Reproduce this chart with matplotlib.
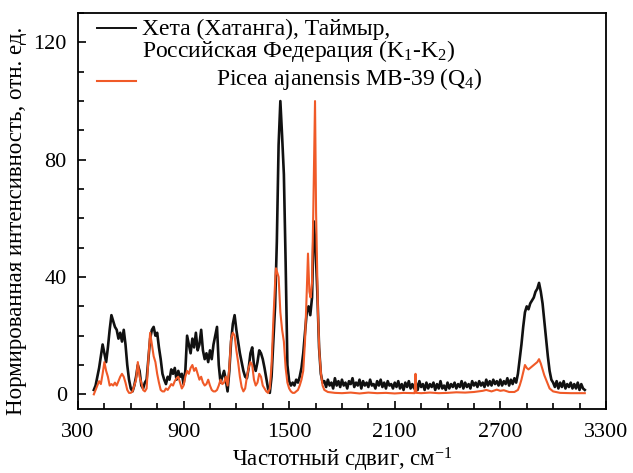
import matplotlib
matplotlib.use("Agg")
import matplotlib.pyplot as plt
from matplotlib.ticker import MultipleLocator, FixedLocator

plt.rcParams['font.family'] = ['Liberation Serif', 'DejaVu Serif']
plt.rcParams['mathtext.fontset'] = 'custom'
plt.rcParams['mathtext.rm'] = 'Liberation Serif'
plt.rcParams['mathtext.it'] = 'Liberation Serif:italic'

# Хета (Хатанга) spectrum: fingerprint part sampled every 10 cm-1
khet_shift_a = list(range(390, 1700, 10))
khet_int_a = [1.5, 3, 6, 9, 13, 17, 14, 11, 16, 22, 27, 25, 23, 22, 19,
              21, 18, 22, 17, 10, 5, 2, 1, 3, 6, 10, 8, 3, 2, 4,
              5, 12, 19, 22, 23, 20, 21, 16, 12, 7, 5, 3.5, 6, 5, 8.5,
              7, 9, 5, 8, 6, 7, 3.5, 8, 20, 17, 14, 19, 16, 21, 15,
              17, 22, 15, 12, 14, 11, 15, 12, 17, 20, 23, 10, 4,
              6, 8, 5, 1, 8, 18, 24, 27, 22, 18, 14, 11, 8,
              6, 5.5, 9, 14, 16, 10, 8, 11, 15, 14, 12, 9, 5.5,
              2, 0.5, 6, 18, 30, 52, 85, 100, 88, 75, 45, 10, 4.5,
              3, 4, 3, 5, 4, 6, 9, 14, 21, 28, 30, 27, 33,
              59, 50, 35, 16, 7, 4]
# noisy baseline 1700-2790
khet_shift_b = list(range(1700, 2800, 10))
khet_int_b = [4.5, 2.5, 5, 3, 4, 2, 5.5, 3, 4.5, 2.5,
              5, 3, 4, 2, 4.5, 3.5, 5.5, 2.5, 4, 3,
              5, 2, 4.5, 3, 4, 2.5, 5, 3, 3.5, 2,
              4.5, 3, 5, 2.5, 4, 2, 4.5, 3, 3.5, 2,
              4, 2.5, 4.5, 2, 3.5, 1.5, 4, 2.5, 4.5, 2,
              3.5, 2, 4, 1.5, 4.5, 2.5, 3.5, 1.5, 4, 2,
              3.5, 2.5, 4, 1.5, 3.5, 2, 4.5, 2, 3, 1.5,
              4, 2, 3.5, 2.5, 4, 2, 3.5, 2.5, 4.5, 2,
              4, 2.5, 3.5, 2, 4.5, 3, 4, 2.5, 4.5, 3,
              4, 2.5, 5, 3, 4.5, 3, 5, 3.5, 4.5, 3,
              5, 3, 4.5, 3.5, 5.5, 3, 5, 3.5, 5.5, 4]
# CH band and tail 2800-3180
khet_shift_c = list(range(2800, 3190, 10))
khet_int_c = [7, 12, 17, 23, 28, 30, 29, 31, 32, 33, 35, 36, 38, 35, 31, 25, 19,
              13, 8, 5, 4, 2.5, 4.5, 2, 4, 2.5, 4.5, 2, 3.5, 2.5, 4, 2,
              3.5, 2, 4, 1.5, 3.5, 2, 1.5]

khet_shift = khet_shift_a + khet_shift_b + khet_shift_c
khet_int = khet_int_a + khet_int_b + khet_int_c

# Picea ajanensis MB-39 spectrum
picea_shift = [390, 400, 410, 420, 430, 440, 450, 460, 470, 480, 490, 500, 510, 520, 530,
               540, 550, 560, 570, 580, 590, 600, 610, 620, 630, 640, 650, 660, 670, 680,
               690, 700, 710, 720, 730, 740, 750, 760, 770, 780, 790, 800, 810, 820, 830,
               840, 850, 860, 870, 880, 890, 900, 910, 920, 930, 940, 950, 960, 970, 980,
               990, 1000, 1010, 1020, 1030, 1040, 1050, 1060, 1070, 1080, 1090, 1100, 1110,
               1120, 1130, 1140, 1150, 1160, 1170, 1180, 1190, 1200, 1210, 1220, 1230, 1240,
               1250, 1260, 1270, 1280, 1290, 1300, 1310, 1320, 1330, 1340, 1350, 1360, 1370,
               1380, 1390, 1400, 1410, 1420, 1425, 1430, 1440, 1450, 1460, 1470, 1480, 1490,
               1500, 1510, 1520, 1530, 1540, 1550, 1560, 1570, 1580, 1590, 1600, 1607, 1615,
               1622, 1630, 1637, 1647, 1653, 1664, 1672, 1681, 1690, 1700, 1720, 1760, 1800,
               1850, 1900, 1950, 2000, 2050, 2100, 2150, 2200, 2213, 2218, 2223, 2250, 2300,
               2350, 2400, 2450, 2500, 2550, 2600, 2620, 2650, 2680, 2700, 2720, 2750, 2780,
               2800, 2810, 2820, 2830, 2840, 2850, 2860, 2870, 2880, 2890, 2900, 2910, 2920,
               2930, 2940, 2950, 2960, 2970, 2980, 2990, 3000, 3040, 3100, 3180]
picea_int = [0, 1.5, 3, 4.5, 3.5, 7, 11, 8, 6, 3, 3.5, 3, 4, 3, 4.5,
             6, 7, 6, 4, 1.5, 0.5, 0.5, 1, 3, 5, 11, 6, 4, 1.5, 1,
             2, 12, 21, 17, 13, 11, 7, 4, 1.5, 1, 1, 2, 1.5, 2.5, 3.5,
             3, 4.5, 5.5, 6, 4, 2, 3, 6, 8, 7, 9, 10, 8, 9, 7,
             5, 6, 4, 3, 3.5, 5, 3, 1.5, 1, 1, 1.5, 3, 5,
             3.5, 4, 6, 3, 9, 19, 21, 20, 15, 11, 6, 2.5, 1,
             2, 6, 9, 11, 10, 5, 3, 4, 7, 6, 3, 2, 1,
             0.5, 2, 10, 25, 38, 43, 42, 40, 28, 22, 18, 9, 4,
             2, 1, 0.5, 0.5, 1, 1.5, 3, 5, 8, 18, 35, 48, 35,
             33, 38, 62, 100, 62, 27, 14, 7, 3, 1.5, 0.8, 0.5, 0.4,
             0.6, 0.3, 0.6, 0.4, 0.5, 0.3, 0.5, 0.4, 0.4, 7, 0.5, 0.4, 0.6,
             0.4, 0.5, 0.7, 0.6, 0.8, 1.2, 1.5, 1.0, 1.6, 1.2, 1.4, 0.8, 0.8,
             1.5, 3, 5, 7.5, 10, 9, 8.5, 9, 9.5, 10, 10.5, 11, 12,
             10.5, 8.5, 6.5, 5, 3.5, 2, 1.5, 1, 0.5, 0.4, 0.4]

x_ticks = [300, 900, 1500, 2100, 2700, 3300]
label_khet = ('Хета (Хатанга), Таймыр,\n'
              r'Российская Федерация (K$\mathregular{_1}$-K$\mathregular{_2}$)')
label_picea = r'Picea ajanensis MB-39 (Q$\mathregular{_4}$)'

fig = plt.figure(figsize=(6.33, 4.73), dpi=100)
ax = fig.add_axes([0.1232, 0.1353, 0.834, 0.837])

ax.plot(khet_shift, khet_int, color='#111111', linewidth=1.9)
ax.plot(picea_shift, picea_int, color='#f05a28', linewidth=1.5)

ax.set_xlim(300, 3300)
ax.set_ylim(-5, 130)
ax.xaxis.set_major_locator(FixedLocator(x_ticks))
ax.xaxis.set_minor_locator(MultipleLocator(150))
ax.yaxis.set_major_locator(MultipleLocator(40))
ax.yaxis.set_minor_locator(MultipleLocator(10))
ax.tick_params(which='both', direction='in', width=1.2, labelsize=16)
ax.tick_params(which='major', length=6)
ax.tick_params(which='minor', length=4)
ax.tick_params(axis='x', which='major', pad=10)
ax.tick_params(axis='y', which='major', pad=8)
for sp in ax.spines.values():
    sp.set_linewidth(1.3)

ax.set_xlabel('Частотный сдвиг, см$^{-1}$', fontsize=16.5, labelpad=3)
ax.set_ylabel('Нормированная интенсивность, отн. ед.', fontsize=16.5)
ax.yaxis.set_label_coords(-0.097, 0.475)

# legend drawn by hand: second entry is shifted to the right in the original
ax.plot([0.036, 0.110], [0.962, 0.962], color='#111111', linewidth=1.4,
        transform=ax.transAxes)
ax.text(0.121, 0.985, label_khet, fontsize=17, transform=ax.transAxes,
        va='top', linespacing=0.86)
ax.plot([0.036, 0.110], [0.828, 0.828], color='#f05a28', linewidth=1.5,
        transform=ax.transAxes)
ax.text(0.262, 0.818, label_picea, fontsize=17, transform=ax.transAxes, va='baseline')

fig.savefig('out.png', dpi=100)
plt.close(fig)
